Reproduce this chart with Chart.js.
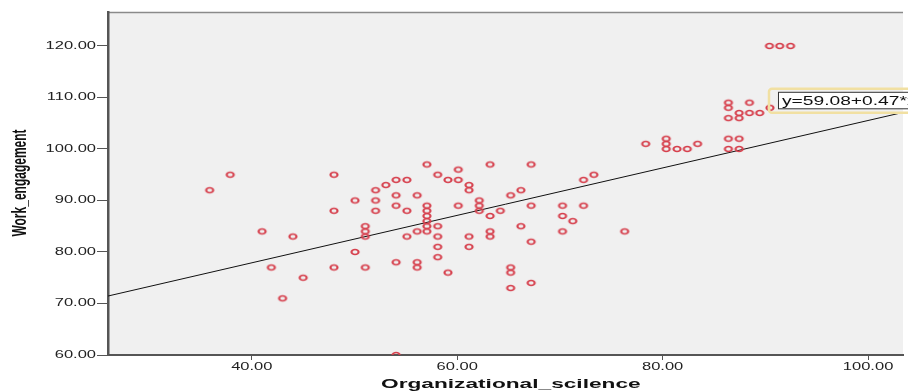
<!DOCTYPE html>
<html>
<head>
<meta charset="utf-8">
<script src="https://cdn.jsdelivr.net/npm/chart.js@4.4.0/dist/chart.umd.min.js"></script>
<style>
html,body{margin:0;padding:0;background:#fff;}
#wrap{width:908px;height:392px;position:relative;}
</style>
</head>
<body>
<div id="wrap"><canvas id="c" width="908" height="392"></canvas></div>
<script>
// ---- data ----
const orgScience = [35.9,37.9,41,44,41.9,45,43,48,52.05,53.05,50.05,52.05,48,52.05,51.05,51.05,51.05,50.05,48,51.05,
  57.05,63.2,67.2,58.1,60.1,54.05,55.1,59.1,60.1,61.15,61.15,54.05,56.1,65.2,66.2,54.05,55.1,57.05,57.05,57.05,57.05,57.05,57.05,56.1,58.1,58.1,55.1,
  60.1,62.15,62.15,62.15,64.2,63.2,61.15,61.15,58.1,58.1,63.2,63.2,66.2,67.2,67.2,70.25,70.25,71.25,70.25,54.05,56.1,56.1,59.1,65.2,65.2,65.2,67.2,54.05,
  78.35,80.35,80.35,80.35,81.4,82.4,83.4,86.4,87.45,86.4,87.45,73.3,72.3,72.3,76.3,90.4,91.4,92.45,86.4,88.45,86.4,87.45,88.45,89.45,90.45,86.4,87.45];
const workEngagement = [92,95,84,83,77,75,71,95,92,93,90,90,88,88,85,84,83,80,77,77,
  97,97,97,95,96,94,94,94,94,93,92,91,91,91,92,89,88,89,88,87,86,85,84,84,85,83,83,
  89,90,89,88,88,87,83,81,81,79,84,83,85,89,82,89,87,86,84,78,78,77,76,77,76,73,74,60,
  101,102,101,100,100,100,101,102,102,100,100,95,94,89,84,120,120,120,109,109,108,107,107,107,108,106,106];
const fitLineX = [26, 103.4];
const fitLineY = [71.45, 107.1];
const xTicks = [40, 60, 80, 100];
const yTicks = [60, 70, 80, 90, 100, 110, 120];
const xTitle = 'Organizational_scilence';
const yTitle = 'Work_engagement';
const fitLabel = 'y=59.08+0.47*x';

// ---- point marker (stretched ellipse) ----
const marker = document.createElement('canvas');
marker.width = 14; marker.height = 10;
(function(){
  const m = marker.getContext('2d');
  m.translate(7,5); m.scale(1.4,1);
  m.beginPath(); m.arc(0,0,2.55,0,Math.PI*2);
  m.lineWidth = 1.5; m.strokeStyle = '#d6404d'; m.stroke();
})();

const SX = 1.65;
function stretchText(ctx, text, x, y, font, align, baseline, sx, color){
  ctx.save();
  ctx.translate(x, y);
  ctx.scale(sx, 1);
  ctx.font = font;
  ctx.fillStyle = color;
  ctx.textAlign = align;
  ctx.textBaseline = baseline;
  ctx.fillText(text, 0, 0);
  ctx.restore();
}

const decor = {
  id: 'decor',
  beforeDraw(chart){
    const {ctx, chartArea:a} = chart;
    ctx.save();
    ctx.fillStyle = '#f0f0f0';
    ctx.fillRect(a.left, a.top, a.right - a.left, a.bottom - a.top);
    ctx.strokeStyle = '#8a8a8a';
    ctx.lineWidth = 1.5;
    ctx.beginPath(); ctx.moveTo(a.left, a.top + 0.5); ctx.lineTo(a.right, a.top + 0.5); ctx.stroke();
    ctx.restore();
  },
  afterDatasetsDraw(chart){
    const {ctx} = chart;
    const xs = chart.scales.x, ys = chart.scales.y;
    // label box next to the highlighted point on the fit line
    const px = xs.getPixelForValue(90.45);
    const py = ys.getPixelForValue(108);
    ctx.save();
    ctx.strokeStyle = '#f1e0a2';
    ctx.lineWidth = 2.5;
    ctx.beginPath();
    ctx.roundRect(px - 1, py - 19, 160, 24, 3);
    ctx.stroke();
    ctx.fillStyle = '#ffffff';
    ctx.fillRect(px + 8.5, py - 15.5, 150, 16.5);
    ctx.strokeStyle = '#333';
    ctx.lineWidth = 1;
    ctx.strokeRect(px + 8.5, py - 15.5, 150, 16.5);
    ctx.restore();
    stretchText(ctx, fitLabel, px + 12, py - 3, '12px "Liberation Sans", Arial, sans-serif', 'left', 'alphabetic', 1.6, '#111');
  },
  afterDraw(chart){
    const {ctx, chartArea:a} = chart;
    const xs = chart.scales.x, ys = chart.scales.y;
    const f = '10px "Liberation Sans", Arial, sans-serif';
    xs.ticks.forEach(t => {
      stretchText(ctx, t.value.toFixed(2), xs.getPixelForValue(t.value), a.bottom + 12.5, f, 'center', 'middle', SX, '#222');
    });
    ys.ticks.forEach(t => {
      stretchText(ctx, t.value.toFixed(2), a.left - 12, ys.getPixelForValue(t.value), f, 'right', 'middle', SX, '#222');
    });
    // x title
    stretchText(ctx, xTitle, 381, 388, 'bold 13.5px "Liberation Sans", Arial, sans-serif', 'left', 'alphabetic', 1.68, '#111');
    // y title (rotated, glyphs stretched horizontally)
    ctx.save();
    ctx.translate(20.5, 183);
    ctx.scale(1.65, 1);
    ctx.rotate(-Math.PI/2);
    ctx.font = 'bold 12px "Liberation Sans", Arial, sans-serif';
    ctx.fillStyle = '#111';
    ctx.textAlign = 'center';
    ctx.textBaseline = 'middle';
    ctx.fillText(yTitle, 0, 0);
    ctx.restore();
  }
};

const points = orgScience.map((v, i) => ({x: v, y: workEngagement[i]}));
const fit = fitLineX.map((v, i) => ({x: v, y: fitLineY[i]}));

new Chart(document.getElementById('c'), {
  type: 'scatter',
  data: {
    datasets: [
      {data: points, pointStyle: marker, pointRadius: 4, pointHoverRadius: 4, clip: 0, showLine: false},
      {type: 'line', data: fit, borderColor: '#111', borderWidth: 1, pointRadius: 0, fill: false, tension: 0}
    ]
  },
  options: {
    responsive: false,
    animation: false,
    devicePixelRatio: 1,
    layout: {padding: {top: 12, right: 0, left: 0, bottom: 0}},
    plugins: {legend: {display: false}, tooltip: {enabled: false}},
    events: [],
    scales: {
      x: {
        type: 'linear', min: 26, max: 103.4,
        afterBuildTicks(s){ s.ticks = xTicks.map(v => ({value: v})); },
        afterFit(s){ s.height = 37; },
        ticks: {display: false},
        grid: {display: true, drawOnChartArea: false, drawTicks: true, tickLength: 5, color: '#555', lineWidth: 1},
        border: {display: true, color: '#555', width: 2},
        title: {display: false}
      },
      y: {
        type: 'linear', min: 60, max: 126.6,
        afterBuildTicks(s){ s.ticks = yTicks.map(v => ({value: v})); },
        afterFit(s){ s.width = 108; },
        ticks: {display: false},
        grid: {display: true, drawOnChartArea: false, drawTicks: true, tickLength: 11, color: '#555', lineWidth: 1},
        border: {display: true, color: '#555', width: 2.5},
        title: {display: false}
      }
    }
  },
  plugins: [decor]
});
</script>
</body>
</html>
